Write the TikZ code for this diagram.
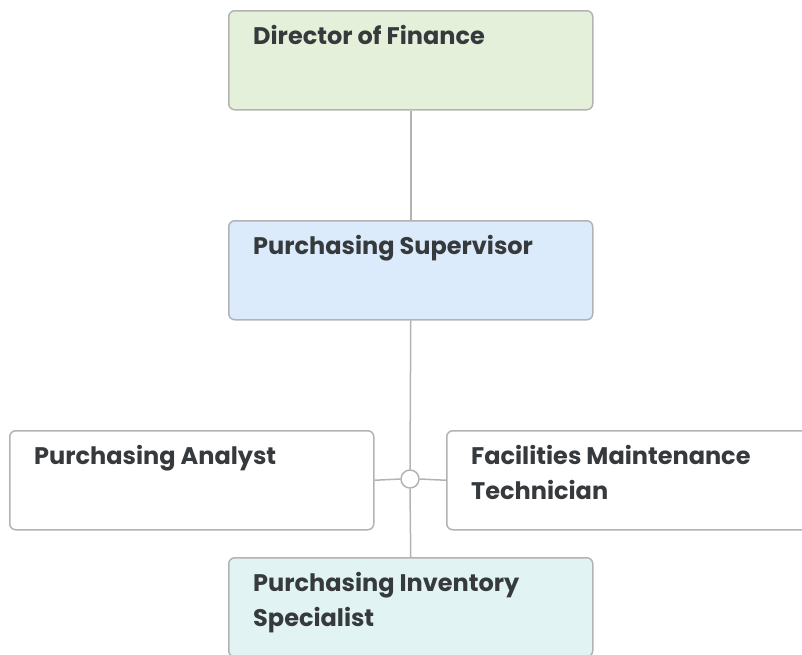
\documentclass[tikz,border=0pt]{standalone}
\usepackage{fontspec}
\setmainfont{Poppins}
\definecolor{boxline}{HTML}{B3B3B3}
\definecolor{txt}{HTML}{363A3C}
\definecolor{fgreen}{HTML}{E5F0DB}
\definecolor{fblue}{HTML}{DBEBFC}
\definecolor{fteal}{HTML}{E1F3F3}
\begin{document}
\begin{tikzpicture}[x=1pt,y=-1pt,
  box/.style={draw=boxline, line width=1.5pt, rounded corners=6pt, minimum width=364pt, minimum height=99pt, inner sep=0pt, anchor=north west},
  lbl/.style={anchor=base west, font=\bfseries\fontsize{24}{35}\selectfont, text=txt, align=left, inner sep=0pt},
  conn/.style={draw=boxline, line width=1.5pt}]
\useasboundingbox (0,0) rectangle (802,654);
\node[box, fill=fgreen] (dir) at (228,10) {};
\node[box, fill=fblue] (sup) at (228,220) {};
\node[box, fill=white] (ana) at (9,430) {};
\node[box, fill=white] (fac) at (446,430) {};
\node[box, fill=fteal] (inv) at (228,557) {};
\node[draw=boxline, line width=1.5pt, fill=white, circle, minimum size=18pt, inner sep=0pt] (hub) at (410,479) {};
\draw[conn] (dir.south) -- (sup.north);
\draw[conn] (sup.south) -- (hub.north);
\draw[conn] (hub.south) -- (inv.north);
\draw[conn] (ana.east) -- (hub.west);
\draw[conn] (hub.east) -- (fac.west);
\node[lbl] (tdir) at (253,44) {Director of Finance};
\node[lbl] (tsup) at (253,254) {Purchasing Supervisor};
\node[lbl] (tana) at (34,464) {Purchasing Analyst};
\node[lbl] (tfac) at (471,499) {Facilities Maintenance\\Technician};
\node[lbl] (tinv) at (253,626) {Purchasing Inventory\\Specialist};
\end{tikzpicture}
\end{document}
